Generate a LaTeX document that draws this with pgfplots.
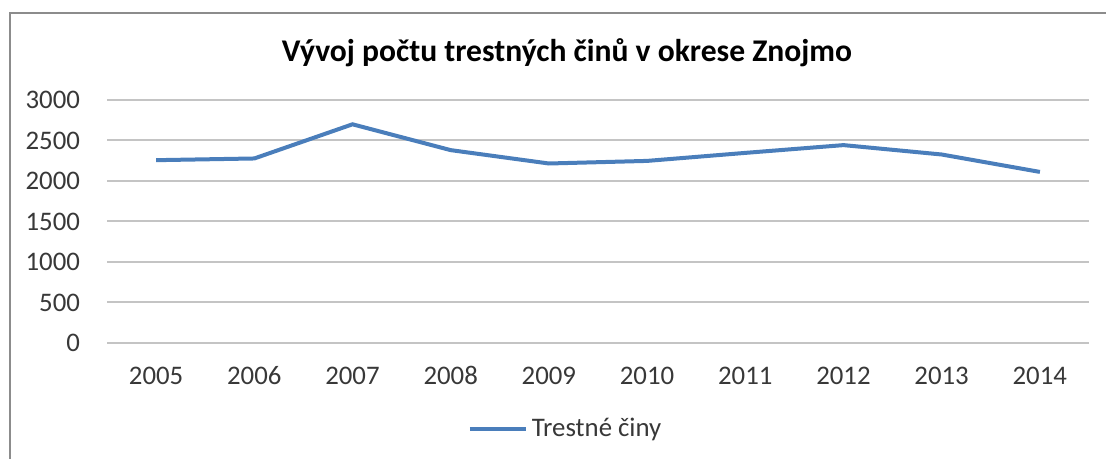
\documentclass[border=0pt]{standalone}
\usepackage{fontspec}
\setmainfont{Carlito}
\usepackage{pgfplots}
\pgfplotsset{compat=1.18}
\definecolor{lineblue}{HTML}{4A7EBB}
\definecolor{gridgray}{HTML}{C4C4C4}
\definecolor{framegray}{HTML}{8C8C8C}
\definecolor{labelgray}{HTML}{383838}
\begin{document}
\begin{tikzpicture}[x=1pt,y=1pt]
  \useasboundingbox (0,0) rectangle (553,229.5);
  \draw[framegray, line width=1pt] (5,0) -- (5,223) -- (553,223);
  \node[font=\fontsize{15.8}{18}\selectfont\bfseries] at (283.5,203) {Vývoj počtu trestných činů v okrese Znojmo};
  \begin{axis}[
      at={(53.5pt,58pt)}, anchor=south west,
      scale only axis, width=491pt, height=121.5pt,
      xmin=2004.5, xmax=2014.5, ymin=0, ymax=3000,
      xtick={2005,...,2014}, ytick={0,500,...,3000},
      /pgf/number format/1000 sep={},
      /pgf/number format/assume math mode=true,
      axis line style={draw=none}, tick style={draw=none},
      ymajorgrids, grid style={gridgray, line width=1pt},
      tick label style={font=\fontsize{13.4}{15}\selectfont, text=labelgray},
      yticklabel style={xshift=-10pt},
      xticklabel style={anchor=north, text height=9pt, text depth=0pt, yshift=-8pt},
      legend style={at={(0.468,-0.354)}, anchor=center, draw=none,
        font=\fontsize{13.4}{15}\selectfont, text=labelgray},
      legend image code/.code={\draw[#1] (0pt,0pt) -- (28pt,0pt);},
    ]
    \addplot[lineblue, line width=2pt] coordinates {
      (2005,2257) (2006,2278) (2007,2700) (2008,2381) (2009,2216)
      (2010,2248) (2011,2347) (2012,2443) (2013,2327) (2014,2112)};
    \addlegendentry{Trestné činy}
  \end{axis}
\end{tikzpicture}
\end{document}
